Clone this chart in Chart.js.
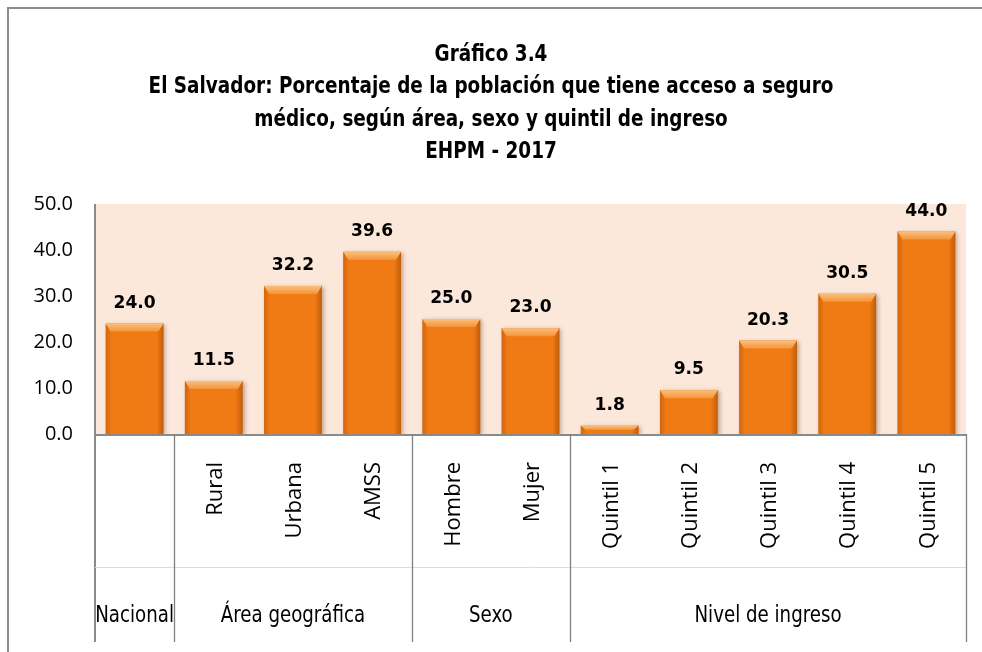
<!DOCTYPE html>
<html>
<head>
<meta charset="utf-8">
<script src="https://cdn.jsdelivr.net/npm/chart.js@4.4.1/dist/chart.umd.min.js"></script>
<style>
html, body { margin: 0; padding: 0; background: #fff; }
#wrap { width: 982px; height: 652px; position: relative; }
</style>
</head>
<body>
<div id="wrap"><canvas id="chart"></canvas></div>
<script>
// chart data
var titleLines = [
  'Gráfico 3.4',
  'El Salvador: Porcentaje de la población que tiene acceso a seguro',
  'médico, según área, sexo y quintil de ingreso',
  'EHPM - 2017'
];
var categories = ['', 'Rural', 'Urbana', 'AMSS', 'Hombre', 'Mujer', 'Quintil 1', 'Quintil 2', 'Quintil 3', 'Quintil 4', 'Quintil 5'];
var values = [24.0, 11.5, 32.2, 39.6, 25.0, 23.0, 1.8, 9.5, 20.3, 30.5, 44.0];
var groupNames = ['Nacional', 'Área geográfica', 'Sexo', 'Nivel de ingreso'];
var groupSizes = [1, 3, 2, 5];
var yTicks = [0, 10, 20, 30, 40, 50];

var LINE = '#8a8a8a';
var TABLE_BOTTOM = 642;
var NARROW = '"Liberation Sans Narrow", "DejaVu Sans Condensed", sans-serif';

// squeezed text, the original uses a narrow face
function narrowText(c, txt, x, y, sx) {
  c.save();
  c.translate(x, y);
  c.scale(sx, 1);
  c.fillText(txt, 0, 0);
  c.restore();
}

var decor = {
  id: 'decor',
  beforeDraw: function (chart) {
    var c = chart.ctx, a = chart.chartArea;
    c.save();
    c.fillStyle = '#fff';
    c.fillRect(0, 0, chart.width, chart.height);
    c.fillStyle = '#fbe8da';
    c.fillRect(a.left, a.top, a.right - a.left, a.bottom - a.top);
    // outer frame
    c.strokeStyle = '#8c8c8c';
    c.lineWidth = 2;
    c.strokeRect(8, 8, 1000, 1000);
    // title
    c.fillStyle = '#000';
    c.textAlign = 'center';
    c.textBaseline = 'middle';
    c.font = 'bold 23px ' + NARROW;
    titleLines.forEach(function (t, i) {
      narrowText(c, t, 491, 55 + i * 32.5, 0.89);
    });
    c.restore();
  },
  beforeDatasetsDraw: function (chart) {
    var c = chart.ctx;
    c.save();
    c.shadowColor = 'rgba(90,40,0,0.35)';
    c.shadowBlur = 4;
    c.shadowOffsetX = 2;
    c.shadowOffsetY = 1;
  },
  afterDatasetsDraw: function (chart) {
    var c = chart.ctx;
    c.restore();
    var meta = chart.getDatasetMeta(0);
    c.save();
    meta.data.forEach(function (el, i) {
      var p = el.getProps(['x', 'y', 'base', 'width'], true);
      var l = p.x - p.width / 2, r = p.x + p.width / 2, t = p.y, b = p.base;
      var h = Math.min(8, (b - t) / 2);
      // side shading
      var g = c.createLinearGradient(l, 0, r, 0);
      g.addColorStop(0, 'rgba(150,60,0,0.35)');
      g.addColorStop(0.1, 'rgba(150,60,0,0)');
      g.addColorStop(0.88, 'rgba(120,50,0,0)');
      g.addColorStop(1, 'rgba(120,50,0,0.4)');
      c.fillStyle = g;
      c.fillRect(l, t, r - l, b - t);
      // top bevel
      var tg = c.createLinearGradient(0, t, 0, t + h);
      tg.addColorStop(0, '#fbc07a');
      tg.addColorStop(1, '#f4943c');
      c.fillStyle = tg;
      c.beginPath();
      c.moveTo(l, t);
      c.lineTo(r, t);
      c.lineTo(r - 5, t + h);
      c.lineTo(l + 5, t + h);
      c.closePath();
      c.fill();
      // value label
      c.fillStyle = '#000';
      c.font = 'bold 18px "DejaVu Sans", sans-serif';
      c.textAlign = 'center';
      c.textBaseline = 'alphabetic';
      narrowText(c, values[i].toFixed(1), p.x, t - 16, 0.95);
    });
    c.restore();
  },
  afterDraw: function (chart) {
    var c = chart.ctx, a = chart.chartArea, xs = chart.scales.x;
    c.save();
    // axis lines
    c.strokeStyle = LINE;
    c.lineWidth = 2;
    c.beginPath();
    c.moveTo(a.left, a.top);
    c.lineTo(a.left, TABLE_BOTTOM);
    c.moveTo(a.left, a.bottom + 1);
    c.lineTo(a.right, a.bottom + 1);
    c.stroke();
    // level separator
    c.strokeStyle = '#dcdcdc';
    c.lineWidth = 1;
    c.beginPath();
    c.moveTo(a.left, 567.5);
    c.lineTo(a.right, 567.5);
    c.stroke();
    // group boundaries and labels
    var idx = 0;
    var step = xs.getPixelForValue(1) - xs.getPixelForValue(0);
    c.strokeStyle = '#7f7f7f';
    c.lineWidth = 1.3;
    c.fillStyle = '#000';
    c.textAlign = 'center';
    c.textBaseline = 'middle';
    c.font = '23px ' + NARROW;
    groupSizes.forEach(function (n, gi) {
      var x0 = xs.getPixelForValue(idx) - step / 2;
      var x1 = xs.getPixelForValue(idx + n - 1) + step / 2;
      c.beginPath();
      c.moveTo(Math.round(x1) + 0.5, a.bottom);
      c.lineTo(Math.round(x1) + 0.5, TABLE_BOTTOM);
      c.stroke();
      narrowText(c, groupNames[gi], (x0 + x1) / 2, 616, 0.88);
      idx += n;
    });
    // rotated category labels
    c.font = '22px "Open Sans", sans-serif';
    c.textAlign = 'right';
    categories.forEach(function (lab, i) {
      if (!lab) return;
      c.save();
      c.translate(xs.getPixelForValue(i) + 2, 462);
      c.rotate(-Math.PI / 2);
      c.fillText(lab, 0, 0);
      c.restore();
    });
    c.restore();
  }
};

new Chart(document.getElementById('chart'), {
  type: 'bar',
  data: {
    labels: categories,
    datasets: [{
      data: values,
      backgroundColor: '#f07a14',
      borderWidth: 0,
      categoryPercentage: 1,
      barPercentage: 0.73
    }]
  },
  options: {
    responsive: true,
    maintainAspectRatio: false,
    animation: false,
    layout: { padding: { top: 204, bottom: 218, left: 0, right: 16 } },
    plugins: { legend: { display: false }, tooltip: { enabled: false }, title: { display: false } },
    scales: {
      x: { display: false },
      y: {
        min: 0,
        max: 50,
        afterFit: function (s) { s.width = 95; },
        afterBuildTicks: function (s) { s.ticks = yTicks.map(function (v) { return { value: v }; }); },
        ticks: {
          padding: 22,
          color: '#000',
          font: { family: '"Open Sans", sans-serif', size: 20 },
          callback: function (v) { return v.toFixed(1); }
        },
        grid: { display: false, drawTicks: false },
        border: { display: false }
      }
    }
  },
  plugins: [decor]
});
</script>
</body>
</html>
